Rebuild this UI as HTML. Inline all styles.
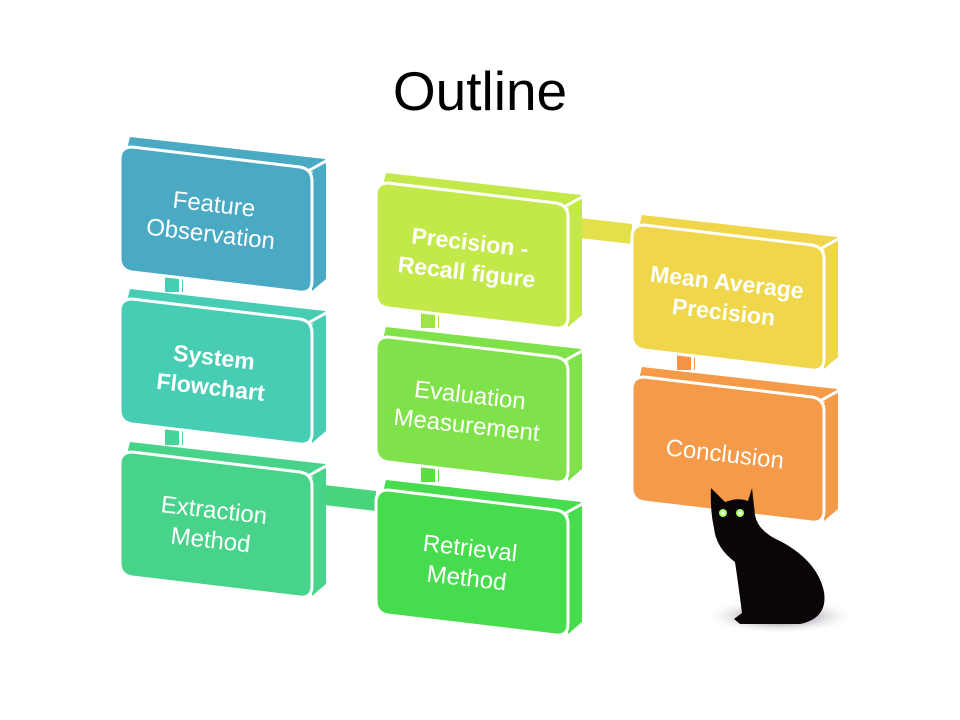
<!DOCTYPE html>
<html><head><style>
body{margin:0;background:#fff;}
svg{display:block}
text{font-family:"Liberation Sans",sans-serif;fill:#fff;}
</style></head><body>
<svg width="960" height="720" viewBox="0 0 960 720" xmlns="http://www.w3.org/2000/svg">
<text x="480" y="110" text-anchor="middle" style="fill:#000;font-size:55px">Outline</text>

<g>
<rect x="165" y="272" width="18" height="20" fill="#48cdb5"/><rect x="179" y="272" width="3" height="20" fill="#fff"/>
<rect x="165" y="425" width="18" height="20" fill="#47d39a"/><rect x="179" y="425" width="3" height="20" fill="#fff"/>
<rect x="421" y="308" width="18" height="20" fill="#9fe34a"/><rect x="435" y="308" width="3" height="20" fill="#fff"/>
<rect x="421" y="462" width="18" height="20" fill="#5ddc48"/><rect x="435" y="462" width="3" height="20" fill="#fff"/>
<rect x="677" y="350" width="18" height="20" fill="#f4944a"/><rect x="691" y="350" width="3" height="20" fill="#fff"/>
<polygon points="580,218 632,224 632,244 580,238" fill="#e3e04a"/>
<polygon points="324,485 376,491 376,511 324,505" fill="#47d47a"/>
</g>

<defs>
<g id="box">
  <path d="M10,-10 L205,12 L205,26 L6,6 Z" fill="currentColor"/>
  <path d="M192,26 L206,16 L206,132 L192,144 Z" fill="currentColor"/>
  <path d="M188,24 L206,14" stroke="#fff" stroke-width="3"/>
  <path d="M12,0 L180,20 Q192,22 192,34 L192,134 Q192,146 180,145 L12,125 Q0,123 0,111 L0,12 Q0,0 12,0 Z" fill="currentColor" stroke="#fff" stroke-width="3"/>
</g>
</defs>

<use href="#box" x="120" y="147" style="color:#4aa9c3"/>
<use href="#box" x="120" y="299" style="color:#48cdb5"/>
<use href="#box" x="120" y="452" style="color:#47d48a"/>
<use href="#box" x="376" y="183" style="color:#c3e84a"/>
<use href="#box" x="376" y="337" style="color:#80e24a"/>
<use href="#box" x="376" y="490" style="color:#47dc4e"/>
<use href="#box" x="632" y="225" style="color:#efd64a"/>
<use href="#box" x="632" y="377" style="color:#f49a48"/>

<g style="font-size:24px" text-anchor="middle">
<g transform="rotate(6.5 212 222)"><text x="212" y="212">Feature</text><text x="212" y="242">Observation</text></g>
<g transform="rotate(6.5 212 375)" font-weight="bold" style="font-size:23px"><text x="212" y="365">System</text><text x="212" y="395">Flowchart</text></g>
<g transform="rotate(6.5 212 528)"><text x="212" y="518">Extraction</text><text x="212" y="548">Method</text></g>
<g transform="rotate(6.5 468 260)" font-weight="bold" style="font-size:23px"><text x="468" y="250">Precision -</text><text x="468" y="280">Recall figure</text></g>
<g transform="rotate(6.5 468 413)"><text x="468" y="403">Evaluation</text><text x="468" y="433">Measurement</text></g>
<g transform="rotate(6.5 468 566)"><text x="468" y="556">Retrieval</text><text x="468" y="586">Method</text></g>
<g transform="rotate(6.5 725 300)" font-weight="bold" style="font-size:23px"><text x="725" y="290">Mean Average</text><text x="725" y="320">Precision</text></g>
<g transform="rotate(6.5 725 453)"><text x="725" y="462">Conclusion</text></g>
</g>

<defs><radialGradient id="sh" cx="0.5" cy="0.5" r="0.5"><stop offset="0" stop-color="#3a2a40"/><stop offset="1" stop-color="#fff" stop-opacity="0"/></radialGradient></defs>
<ellipse cx="780" cy="616" rx="75" ry="18" fill="url(#sh)"/>
<path d="M711,488 L725,502 Q738,497 748,501 L752,488 L755,515 Q758,532 782,542 Q818,562 824,592 Q828,618 800,624 L740,624 L734,619 L742,613 Q738,582 735,562 Q716,548 714,528 Q710,510 711,488 Z" fill="#0a0508"/>
<circle cx="723" cy="513" r="4" fill="#aaff66"/><circle cx="740" cy="513" r="4" fill="#aaff66"/>
<circle cx="723" cy="513" r="1.8" fill="#fff"/><circle cx="740" cy="513" r="1.8" fill="#fff"/>
</svg>
</body></html>
